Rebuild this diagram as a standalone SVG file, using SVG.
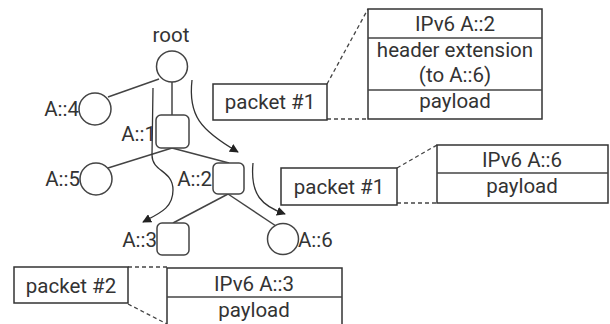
<svg xmlns="http://www.w3.org/2000/svg" width="610" height="324" viewBox="0 0 610 324">
  <defs>
    <marker id="tip" viewBox="0 0 10 10" refX="9" refY="5" markerWidth="9" markerHeight="9" markerUnits="userSpaceOnUse" orient="auto">
      <path d="M0,0 L10,5 L0,10 Z" fill="#222"/>
    </marker>
  </defs>
  <style>
    text { font-family: Roboto, "Open Sans", "Noto Sans CJK KR", sans-serif; font-size: 20.5px; fill: #333; }
    .mid { text-anchor: middle; }
    .end { text-anchor: end; }
    .node { fill: #fff; stroke: #444; stroke-width: 1.5; }
    .edge { stroke: #444; stroke-width: 1.5; fill: none; }
    .flow { stroke: #333; stroke-width: 1.3; fill: none; marker-end: url(#tip); }
    .box { fill: #fff; stroke: #333; stroke-width: 1.5; }
    .dash { stroke: #444; stroke-width: 1.3; stroke-dasharray: 4 3; fill: none; }
  </style>
  <rect width="610" height="324" fill="#fff"/>

  <!-- tree edges -->
  <g id="edges">
    <line class="edge" x1="108" y1="97" x2="159" y2="79"/>
    <line class="edge" x1="172" y1="82" x2="172" y2="115"/>
    <line class="edge" x1="108" y1="168" x2="172" y2="148"/>
    <line class="edge" x1="172" y1="148" x2="229" y2="163"/>
    <line class="edge" x1="228" y1="194" x2="173" y2="223"/>
    <line class="edge" x1="228" y1="194" x2="276" y2="226"/>
  </g>

  <!-- packet flows -->
  <g id="flows">
    <path class="flow" d="M192,80 C188,115 200,130 238,152"/>
    <path class="flow" d="M153,88 L152,155 C152,172 173,170 173,190 C173,208 160,213 143,222"/>
    <path class="flow" d="M253,163 C250,195 262,206 285,214"/>
  </g>

  <g id="root">
    <circle class="node" cx="172" cy="66.5" r="15.5"/>
    <text class="mid" x="171" y="42">root</text>
  </g>
  <g id="a4">
    <circle class="node" cx="95" cy="109" r="16"/>
    <text class="end" x="79" y="116">A::4</text>
  </g>
  <g id="a1">
    <rect class="node" x="156" y="115" width="33" height="33" rx="5"/>
    <text class="end" x="156" y="141">A::1</text>
  </g>
  <g id="a5">
    <circle class="node" cx="96" cy="179" r="16"/>
    <text class="end" x="80" y="186">A::5</text>
  </g>
  <g id="a2">
    <rect class="node" x="213" y="163" width="31" height="31" rx="5"/>
    <text class="end" x="212" y="186">A::2</text>
  </g>
  <g id="a3">
    <rect class="node" x="157" y="223" width="32" height="32" rx="5"/>
    <text class="end" x="157" y="247">A::3</text>
  </g>
  <g id="a6">
    <circle class="node" cx="283" cy="239" r="15.5"/>
    <text x="298" y="247">A::6</text>
  </g>

  <!-- packet #1 towards A::2 -->
  <g id="packet1-top">
    <line class="dash" x1="327" y1="84" x2="368" y2="9"/>
    <line class="dash" x1="327" y1="119" x2="368" y2="119"/>
    <rect class="box" x="213" y="84" width="114" height="36"/>
    <text class="mid" x="270" y="109">packet #1</text>
    <rect class="box" x="368" y="9" width="174" height="110"/>
    <line class="edge" x1="368" y1="38" x2="542" y2="38"/>
    <line class="edge" x1="368" y1="90" x2="542" y2="90"/>
    <text class="mid" x="455" y="31">IPv6 A::2</text>
    <text class="mid" x="455" y="57">header extension</text>
    <text class="mid" x="455" y="82">(to A::6)</text>
    <text class="mid" x="455" y="108">payload</text>
  </g>

  <!-- packet #1 towards A::6 -->
  <g id="packet1-mid">
    <line class="dash" x1="397" y1="168" x2="437" y2="145"/>
    <line class="dash" x1="397" y1="203" x2="437" y2="203"/>
    <rect class="box" x="281" y="168" width="116" height="37"/>
    <text class="mid" x="339" y="194">packet #1</text>
    <rect class="box" x="437" y="145" width="171" height="58"/>
    <line class="edge" x1="437" y1="173" x2="608" y2="173"/>
    <text class="mid" x="522" y="167">IPv6 A::6</text>
    <text class="mid" x="522" y="193">payload</text>
  </g>

  <!-- packet #2 towards A::3 -->
  <g id="packet2">
    <line class="dash" x1="128" y1="267" x2="167" y2="267"/>
    <line class="dash" x1="128" y1="304" x2="167" y2="324"/>
    <rect class="box" x="14" y="267" width="114" height="36"/>
    <text class="mid" x="71" y="293">packet #2</text>
    <rect class="box" x="167" y="268" width="175" height="70"/>
    <line class="edge" x1="167" y1="297" x2="342" y2="297"/>
    <text class="mid" x="254" y="291">IPv6 A::3</text>
    <text class="mid" x="254" y="317">payload</text>
  </g>
</svg>
